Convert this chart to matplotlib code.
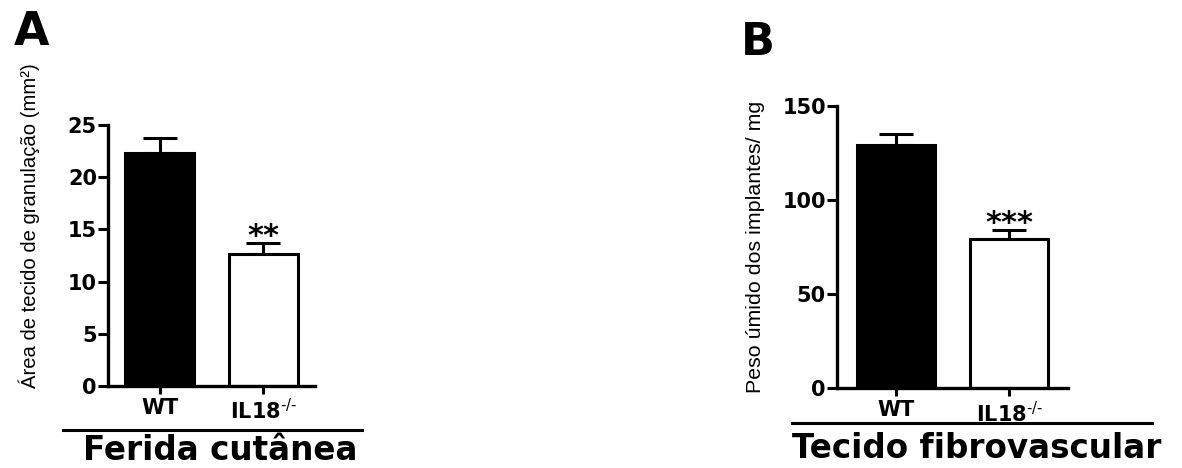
import numpy as np
import matplotlib
matplotlib.use('Agg')
import matplotlib.pyplot as plt
from matplotlib.lines import Line2D

# ==========================================
# DADOS
# ==========================================
grupos = ['WT', r'IL18$^{\text{-/-}}$']

# Painel A - ferida cutanea
area_media = [22.3, 12.6]
area_erro = [1.45, 1.1]
area_sig = ['', '**']

# Painel B - tecido fibrovascular
peso_media = [129.5, 79.5]
peso_erro = [5.8, 4.8]
peso_sig = ['', '***']

cores = ['black', 'white']

plt.rcParams['font.family'] = ['DejaVu Sans']
plt.rcParams['mathtext.fontset'] = 'dejavusans'
plt.rcParams['mathtext.default'] = 'bf'

fig = plt.figure(figsize=(11.82, 4.68), dpi=100)
W, H = 1182, 468


def eixo(px_esq, px_dir, px_topo, px_base):
    return fig.add_axes([px_esq / W, 1 - px_base / H,
                         (px_dir - px_esq) / W, (px_base - px_topo) / H])


def painel(ax, medias, erros, sig, ymax, passo, largura, xlim, ylabel, fs_label):
    x = np.arange(len(grupos))
    ax.bar(x, medias, width=largura, color=cores, edgecolor='black',
           linewidth=2.2, zorder=2)
    ax.errorbar(x, medias, yerr=[[0] * len(erros), erros], fmt='none',
                ecolor='black', elinewidth=2.2, capsize=12,
                capthick=2.2, zorder=1)
    for xi, m, e, s in zip(x, medias, erros, sig):
        if s:
            ax.annotate(s, (xi, m + e), xytext=(0, -6), textcoords='offset points',
                        ha='center', va='bottom', fontsize=22, fontweight='bold')
    ax.set_xlim(*xlim)
    ax.set_ylim(0, ymax)
    ax.set_yticks(np.arange(0, ymax + 1, passo))
    ax.set_xticks(x)
    ax.set_xticklabels(grupos, fontsize=15, fontweight='bold')
    for lbl in ax.get_yticklabels():
        lbl.set_fontweight('bold')
        lbl.set_fontsize(15)
    ax.tick_params(axis='y', direction='out', length=7, width=2.2, pad=1)
    ax.tick_params(axis='x', direction='out', length=6, width=2.2, pad=3)
    for lado in ['top', 'right']:
        ax.spines[lado].set_visible(False)
    for lado in ['left', 'bottom']:
        ax.spines[lado].set_linewidth(2.4)
    ax.set_ylabel(ylabel, fontsize=fs_label, family='Liberation Sans')


# Painel A
axA = eixo(108, 315, 125, 386)
painel(axA, area_media, area_erro, area_sig, 25, 5, 0.67, (-0.5, 1.5),
       'Área de tecido de granulação (mm²)', 14.6)
axA.yaxis.set_label_coords(-0.33, 0.613)

# Painel B
axB = eixo(837, 1068, 106, 388)
painel(axB, peso_media, peso_erro, peso_sig, 150, 50, 0.69, (-0.52, 1.52),
       'Peso úmido dos implantes/ mg', 15.4)
axB.yaxis.set_label_coords(-0.31, 0.5)

# Letras dos paineis
fig.text(32 / W, 1 - 45 / H, 'A', fontsize=33, fontweight='bold',
         ha='center', va='baseline')
fig.text(758 / W, 1 - 55 / H, 'B', fontsize=32, fontweight='bold',
         ha='center', va='baseline')

# Linhas e titulos inferiores
fig.add_artist(Line2D([63 / W, 362 / W], [1 - 430 / H] * 2, color='black', lw=2.2))
fig.add_artist(Line2D([792 / W, 1152 / W], [1 - 423 / H] * 2, color='black', lw=2.2))
fig.text(220 / W, 1 - 460 / H, 'Ferida cutânea', fontsize=23.5, fontweight='bold',
         ha='center', va='baseline')
fig.text(977 / W, 1 - 458 / H, 'Tecido fibrovascular', fontsize=23.5, fontweight='bold',
         ha='center', va='baseline')

fig.savefig('out.png', dpi=100)
plt.close(fig)
